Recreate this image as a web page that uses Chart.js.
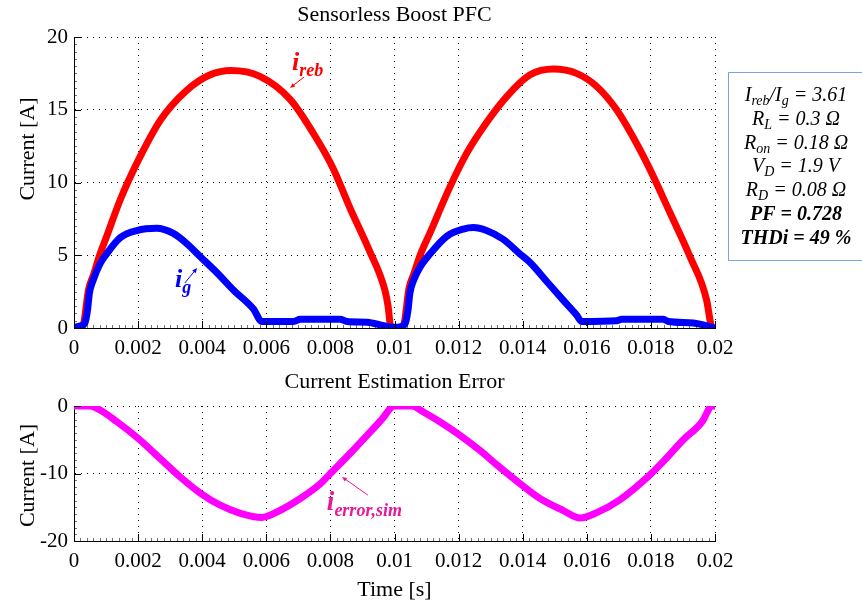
<!DOCTYPE html>
<html>
<head>
<meta charset="utf-8">
<title>Sensorless Boost PFC</title>
<script src="https://cdn.jsdelivr.net/npm/chart.js@4.4.1/dist/chart.umd.min.js"></script>
<style>
  html, body { margin: 0; padding: 0; background: #fff; }
  #wrap { position: relative; width: 862px; height: 608px; background: #fff; }
  canvas { position: absolute; left: 0; }
  #top { top: 0; }
  #bottom { top: 362px; }
</style>
</head>
<body>
<div id="wrap">
  <canvas id="top" width="862" height="362"></canvas>
  <canvas id="bottom" width="862" height="246"></canvas>
</div>
<script>
// Rebuilt (estimated) inductor current i_reb [A] vs time [s]
const tReb = [0, 0.0002, 0.0003, 0.00045, 0.0006, 0.0008, 0.00102, 0.00144, 0.002, 0.0027, 0.0035, 0.00425, 0.0049, 0.0058, 0.00675, 0.0076, 0.0081, 0.0086, 0.0092, 0.0097, 0.0098, 0.00988, 0.0100, 0.0102, 0.0103, 0.01045, 0.0106, 0.0108, 0.0111, 0.01173, 0.01225, 0.01277, 0.0135, 0.01423, 0.01496, 0.01568, 0.01631, 0.01693, 0.01755, 0.01797, 0.0186, 0.01922, 0.01974, 0.01984, 0.01989];
const iReb = [0, 0.05, 0.3, 2.6, 3.6, 5.0, 6.3, 8.8, 11.5, 14.3, 16.3, 17.4, 17.7, 17.3, 15.7, 12.9, 10.9, 8.3, 5.4, 2.6, 1.5, 0.1, 0, 0.05, 0.3, 2.7, 3.7, 5.0, 6.5, 9.7, 12.0, 13.8, 15.9, 17.4, 17.8, 17.5, 16.6, 15.0, 12.7, 10.9, 7.9, 4.9, 1.9, 0.6, 0];

// Measured grid current i_g [A] vs time [s]
const tG = [0, 0.0002, 0.00034, 0.00042, 0.00048, 0.0006, 0.00081, 0.00102, 0.00144, 0.00196, 0.00258, 0.0031, 0.00352, 0.00394, 0.00446, 0.00498, 0.0056, 0.00586, 0.00685, 0.00706, 0.0083, 0.00852, 0.00915, 0.00967, 0.00998, 0.0102, 0.01034, 0.01042, 0.01048, 0.0106, 0.0108, 0.01111, 0.01163, 0.01215, 0.01246, 0.01287, 0.01339, 0.01391, 0.01423, 0.01475, 0.01527, 0.01568, 0.01584, 0.01693, 0.01709, 0.01839, 0.01854, 0.01932, 0.01974, 0.02];
const iG = [0.05, 0.15, 0.35, 1.2, 2.4, 3.3, 4.4, 5.1, 6.2, 6.7, 6.85, 6.5, 5.8, 4.9, 3.8, 2.6, 1.3, 0.45, 0.45, 0.6, 0.6, 0.45, 0.4, 0.15, 0.05, 0.1, 0.35, 1.2, 2.4, 3.3, 4.2, 5.1, 6.3, 6.8, 6.9, 6.7, 6.1, 5.1, 4.5, 3.2, 1.9, 0.9, 0.45, 0.5, 0.6, 0.6, 0.45, 0.35, 0.15, 0];

// Simulated estimation error i_error,sim [A] vs time [s]
const tErr = [0, 0.0005, 0.00081, 0.00133, 0.002, 0.00269, 0.00331, 0.00394, 0.00456, 0.00519, 0.00586, 0.00633, 0.00706, 0.00769, 0.008, 0.00862, 0.00925, 0.00967, 0.00982, 0.00998, 0.01055, 0.0109, 0.0114, 0.012, 0.01267, 0.01319, 0.01397, 0.01454, 0.01527, 0.01579, 0.01631, 0.01703, 0.01797, 0.01839, 0.01901, 0.01963, 0.01979, 0.01989, 0.02];
const iErr = [0, 0, -0.6, -2.3, -4.8, -7.8, -10.5, -12.9, -14.7, -15.9, -16.5, -15.7, -13.7, -11.5, -10.0, -7.0, -3.8, -1.6, -0.6, 0, 0, -0.9, -2.3, -4.2, -6.6, -8.7, -11.7, -13.7, -15.5, -16.6, -15.8, -13.9, -10.2, -8.2, -5.0, -2.1, -0.6, 0, 0];

// Axis ranges and tick steps
const timeRange = [0, 0.02];
const timeStep = 0.002;
const timeMinorStep = 0.0002;
const topRange = [0, 20];
const topStep = 5;
const bottomRange = [-20, 0];
const bottomStep = 10;

// Parameter box lines: [text, isSubscript] pieces
const paramLines = [
  { bold: false, parts: [['I', 0], ['reb', 1], ['/I', 0], ['g', 1], [' = 3.61', 0]] },
  { bold: false, parts: [['R', 0], ['L', 1], [' = 0.3 Ω', 0]] },
  { bold: false, parts: [['R', 0], ['on', 1], [' = 0.18 Ω', 0]] },
  { bold: false, parts: [['V', 0], ['D', 1], [' = 1.9 V', 0]] },
  { bold: false, parts: [['R', 0], ['D', 1], [' = 0.08 Ω', 0]] },
  { bold: true,  parts: [['PF = 0.728', 0]] },
  { bold: true,  parts: [['THDi = 49 %', 0]] }
];

const SERIF = '"Liberation Serif", "Times New Roman", Times, serif';
const RED = '#ff0000', BLUE = '#0000ff', MAGENTA = '#ff00ff', LABEL_MAGENTA = '#e6199a';

const pairs = (t, v) => t.map((x, i) => ({ x, y: v[i] }));

function drawRich(ctx, parts, x, base, size, bold, color, align, subSize) {
  const ss = subSize || Math.round(size * 0.68);
  let w = 0;
  for (const [t, s] of parts) {
    ctx.font = `${bold ? 'bold ' : ''}italic ${s ? ss : size}px ${SERIF}`;
    w += ctx.measureText(t).width;
  }
  let cx = align === 'center' ? x - w / 2 : x;
  ctx.fillStyle = color;
  ctx.textAlign = 'left';
  ctx.textBaseline = 'alphabetic';
  for (const [t, s] of parts) {
    ctx.font = `${bold ? 'bold ' : ''}italic ${s ? ss : size}px ${SERIF}`;
    ctx.fillText(t, cx, base + (s ? Math.round(size * 0.22) : 0));
    cx += ctx.measureText(t).width;
  }
}

function arrow(ctx, x1, y1, x2, y2, color) {
  const ang = Math.atan2(y2 - y1, x2 - x1);
  const hl = 5, hw = 2.2;
  ctx.save();
  ctx.strokeStyle = color;
  ctx.fillStyle = color;
  ctx.lineWidth = 1;
  ctx.beginPath();
  ctx.moveTo(x1, y1);
  ctx.lineTo(x2 - hl * 0.6 * Math.cos(ang), y2 - hl * 0.6 * Math.sin(ang));
  ctx.stroke();
  ctx.beginPath();
  ctx.moveTo(x2, y2);
  ctx.lineTo(x2 - hl * Math.cos(ang) + hw * Math.sin(ang), y2 - hl * Math.sin(ang) - hw * Math.cos(ang));
  ctx.lineTo(x2 - hl * Math.cos(ang) - hw * Math.sin(ang), y2 - hl * Math.sin(ang) + hw * Math.cos(ang));
  ctx.closePath();
  ctx.fill();
  ctx.restore();
}

// Inward major / minor tick marks on the left and bottom axes
function drawInwardTicks(chart, yMinorStep) {
  const { ctx, chartArea: a, scales: { x, y } } = chart;
  ctx.save();
  ctx.strokeStyle = '#000';
  ctx.lineWidth = 1;
  ctx.beginPath();
  x.ticks.forEach(t => {
    const px = Math.round(x.getPixelForValue(t.value)) + 0.5;
    ctx.moveTo(px, a.bottom); ctx.lineTo(px, a.bottom - 7);
  });
  y.ticks.forEach(t => {
    const py = Math.round(y.getPixelForValue(t.value)) + 0.5;
    ctx.moveTo(a.left, py); ctx.lineTo(a.left + 7, py);
  });
  ctx.stroke();
  ctx.strokeStyle = 'rgba(0,0,0,0.55)';
  ctx.beginPath();
  const nx = Math.round((x.max - x.min) / timeMinorStep);
  for (let i = 1; i < nx; i++) {
    const px = Math.round(x.getPixelForValue(x.min + i * timeMinorStep)) + 0.5;
    ctx.moveTo(px, a.bottom); ctx.lineTo(px, a.bottom - 3);
  }
  const ny = Math.round((y.max - y.min) / yMinorStep);
  for (let i = 1; i < ny; i++) {
    const py = Math.round(y.getPixelForValue(y.min + i * yMinorStep)) + 0.5;
    ctx.moveTo(a.left, py); ctx.lineTo(a.left + 3, py);
  }
  ctx.stroke();
  ctx.restore();
}

function centeredText(ctx, text, x, y, size, rotate) {
  ctx.save();
  ctx.fillStyle = '#000';
  ctx.font = `${size}px ${SERIF}`;
  ctx.textAlign = 'center';
  ctx.textBaseline = 'middle';
  ctx.translate(x, y);
  if (rotate) ctx.rotate(-Math.PI / 2);
  ctx.fillText(text, 0, 0);
  ctx.restore();
}

function xScale(height) {
  return {
    type: 'linear',
    min: timeRange[0], max: timeRange[1],
    afterFit: s => { s.height = height; },
    ticks: {
      stepSize: timeStep, autoSkip: false, maxRotation: 0, padding: 8,
      color: '#000', font: { family: SERIF, size: 21 },
      callback: v => String(+v.toFixed(4))
    },
    grid: { color: '#000', lineWidth: 1, drawTicks: false },
    border: { display: true, color: '#000', width: 1, dash: [1, 5] }
  };
}

function yScale(range, step) {
  return {
    type: 'linear',
    min: range[0], max: range[1],
    afterFit: s => { s.width = 74; },
    ticks: {
      stepSize: step, padding: 6, color: '#000',
      font: { family: SERIF, size: 21 }
    },
    grid: { color: '#000', lineWidth: 1, drawTicks: false },
    border: { display: true, color: '#000', width: 1, dash: [1, 5] }
  };
}

const lineStyle = {
  pointRadius: 0, borderWidth: 7, fill: false,
  cubicInterpolationMode: 'monotone',
  borderJoinStyle: 'round', borderCapStyle: 'round'
};

// Top panel: currents
const topDecor = {
  id: 'topDecor',
  afterDraw(chart) {
    const { ctx, chartArea: a, scales: { x, y } } = chart;
    drawInwardTicks(chart, 0.5);
    centeredText(ctx, 'Sensorless Boost PFC', (a.left + a.right) / 2, 15, 22);
    centeredText(ctx, 'Current [A]', 28, a.top + 112, 22, true);

    // series labels with pointers
    drawRich(ctx, [['i', 0], ['reb', 1]], x.getPixelForValue(0.0068), y.getPixelForValue(17.75), 26, true, RED, 'left', 18);
    arrow(ctx, x.getPixelForValue(0.00718), y.getPixelForValue(17.25), x.getPixelForValue(0.00674), y.getPixelForValue(16.5), RED);
    drawRich(ctx, [['i', 0], ['g', 1]], x.getPixelForValue(0.00315), y.getPixelForValue(2.82), 26, true, BLUE, 'left', 18);
    arrow(ctx, x.getPixelForValue(0.00346), y.getPixelForValue(3.1), x.getPixelForValue(0.00384), y.getPixelForValue(4.12), BLUE);

    // parameter box
    const bx = a.right + 13.5, by = 72.5, bw = 150, bh = 188;
    ctx.save();
    ctx.fillStyle = '#fff';
    ctx.fillRect(bx, by, bw, bh);
    ctx.strokeStyle = '#7aa4da';
    ctx.lineWidth = 1;
    ctx.strokeRect(bx, by, bw, bh);
    ctx.restore();
    const cx = a.right + 81;
    paramLines.forEach((ln, i) => {
      drawRich(ctx, ln.parts, cx, 101 + i * 23.8, 20, ln.bold, '#000', 'center', 14);
    });
  }
};

new Chart(document.getElementById('top'), {
  type: 'line',
  data: {
    datasets: [
      Object.assign({ label: 'i_reb', data: pairs(tReb, iReb), borderColor: RED, order: 2 }, lineStyle),
      Object.assign({ label: 'i_g', data: pairs(tG, iG), borderColor: BLUE, order: 1 }, lineStyle)
    ]
  },
  options: {
    responsive: false, animation: false,
    layout: { padding: { left: 0, right: 147, top: 37, bottom: 0 } },
    plugins: { legend: { display: false }, tooltip: { enabled: false } },
    scales: { x: xScale(34), y: yScale(topRange, topStep) }
  },
  plugins: [topDecor]
});

// Bottom panel: estimation error
const bottomDecor = {
  id: 'bottomDecor',
  afterDraw(chart) {
    const { ctx, chartArea: a, scales: { x, y } } = chart;
    drawInwardTicks(chart, 1);
    centeredText(ctx, 'Current Estimation Error', (a.left + a.right) / 2, 20, 22);
    centeredText(ctx, 'Current [A]', 28, (a.top + a.bottom) / 2 + 2, 22, true);
    centeredText(ctx, 'Time [s]', (a.left + a.right) / 2, 228, 22);

    drawRich(ctx, [['i', 0], ['error,sim', 1]], x.getPixelForValue(0.00789), y.getPixelForValue(-15.41), 27, true, LABEL_MAGENTA, 'left', 18);
    arrow(ctx, x.getPixelForValue(0.00917), y.getPixelForValue(-13.2), x.getPixelForValue(0.00836), y.getPixelForValue(-10.5), LABEL_MAGENTA);
  }
};

new Chart(document.getElementById('bottom'), {
  type: 'line',
  data: {
    datasets: [
      Object.assign({ label: 'i_error,sim', data: pairs(tErr, iErr), borderColor: MAGENTA }, lineStyle)
    ]
  },
  options: {
    responsive: false, animation: false,
    layout: { padding: { left: 0, right: 147, top: 44, bottom: 0 } },
    plugins: { legend: { display: false }, tooltip: { enabled: false } },
    scales: { x: xScale(67), y: yScale(bottomRange, bottomStep) }
  },
  plugins: [bottomDecor]
});
</script>
</body>
</html>
